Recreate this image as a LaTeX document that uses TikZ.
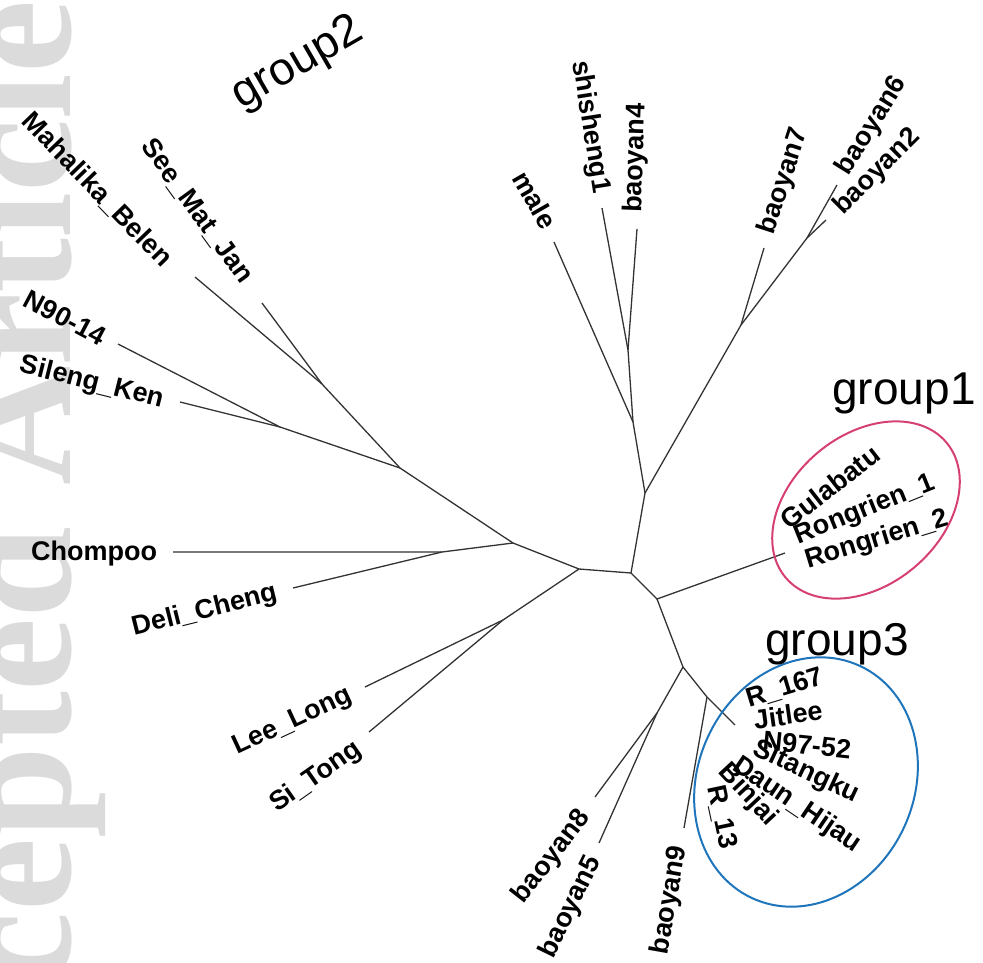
\documentclass[tikz,border=0pt]{standalone}
\usepackage{fontspec}
\setmainfont{Liberation Sans}
\newfontfamily\wmfont{Liberation Serif}
\definecolor{grpone}{RGB}{214,64,112}
\definecolor{grpthree}{RGB}{30,117,187}

\begin{document}
\begin{tikzpicture}[x=1pt,y=-1pt,
    branch/.style={draw=black!80, line width=1.3pt},
    leaf/.style={font=\fontsize{27}{27}\bfseries\selectfont, inner sep=0pt},
    grouplabel/.style={font=\fontsize{46}{46}\selectfont, inner sep=0pt},
    ring/.style={line width=2pt}]
    \useasboundingbox (0,0) rectangle (983,962);
    \node[rotate=90, anchor=base east, inner sep=0pt, text=black!14,
        font=\wmfont\bfseries\fontsize{165}{165}\selectfont] (wm) at (70,0) {Accepted Article};

    % inner nodes of the tree
    \coordinate (A) at (513,543);
    \coordinate (B) at (579,569);
    \coordinate (C) at (631,573);
    \coordinate (D) at (645,493);
    \coordinate (E) at (633,422);
    \coordinate (F) at (628,350);
    \coordinate (G) at (741,325);
    \coordinate (H) at (807,238);
    \coordinate (I) at (657,599);
    \coordinate (J) at (683,667);
    \coordinate (K) at (707,697);
    \coordinate (L) at (657,713);
    \coordinate (M) at (400,468);
    \coordinate (N) at (322,384);
    \coordinate (P) at (280,427);
    \coordinate (Q) at (442,552);
    \coordinate (R) at (503,620);

    % tips
    \coordinate (t-male) at (554,242);
    \coordinate (t-shisheng1) at (602,208);
    \coordinate (t-baoyan4) at (637,229);
    \coordinate (t-baoyan7) at (764,248);
    \coordinate (t-baoyan6) at (837,185);
    \coordinate (t-baoyan2) at (826,220);
    \coordinate (t-grp1) at (785,553);
    \coordinate (t-grp3) at (735,725);
    \coordinate (t-baoyan9) at (684,828);
    \coordinate (t-baoyan8) at (595,797);
    \coordinate (t-baoyan5) at (599,843);
    \coordinate (t-leelong) at (365,687);
    \coordinate (t-sitong) at (369,732);
    \coordinate (t-delicheng) at (293,588);
    \coordinate (t-chompoo) at (173,552);
    \coordinate (t-silengken) at (180,402);
    \coordinate (t-n90) at (118,344);
    \coordinate (t-mahalika) at (195,277);
    \coordinate (t-seematjan) at (262,303);

    \draw[branch] (A) -- (B) -- (C) -- (D) -- (E) -- (F);
    \draw[branch] (E) -- (t-male);
    \draw[branch] (F) -- (t-shisheng1);
    \draw[branch] (F) -- (t-baoyan4);
    \draw[branch] (D) -- (G) -- (t-baoyan7);
    \draw[branch] (G) -- (H) -- (t-baoyan6);
    \draw[branch] (H) -- (t-baoyan2);
    \draw[branch] (C) -- (I) -- (t-grp1);
    \draw[branch] (I) -- (J) -- (L) -- (t-baoyan8);
    \draw[branch] (L) -- (t-baoyan5);
    \draw[branch] (J) -- (K) -- (t-grp3);
    \draw[branch] (K) -- (t-baoyan9);
    \draw[branch] (B) -- (R) -- (t-leelong);
    \draw[branch] (R) -- (t-sitong);
    \draw[branch] (A) -- (Q) -- (t-chompoo);
    \draw[branch] (Q) -- (t-delicheng);
    \draw[branch] (A) -- (M) -- (P) -- (t-silengken);
    \draw[branch] (P) -- (t-n90);
    \draw[branch] (M) -- (N) -- (t-mahalika);
    \draw[branch] (N) -- (t-seematjan);

    \node[leaf, rotate=-60] (male) at (535,200) {male};
    \node[leaf, rotate=-81] (shisheng1) at (590,127) {shisheng1};
    \node[leaf, rotate=88] (baoyan4) at (636,158) {baoyan4};
    \node[leaf, rotate=72] (baoyan7) at (784,181) {baoyan7};
    \node[leaf, rotate=58] (baoyan6) at (872,126) {baoyan6};
    \node[leaf, rotate=45] (baoyan2) at (877,172) {baoyan2};
    \node[leaf, rotate=38] (gulabatu) at (830,487) {Gulabatu};
    \node[leaf, rotate=22] (rongrien1) at (865,510) {Rongrien\_1};
    \node[leaf, rotate=17] (rongrien2) at (877,540) {Rongrien\_2};
    \node[leaf, rotate=17] (r167) at (785,688) {R\_167};
    \node[leaf, rotate=8] (jitlee) at (788,715) {Jitlee};
    \node[leaf, rotate=-6] (n9752) at (807,745) {N97-52};
    \node[leaf, rotate=-25] (sitangku) at (806,772) {Sitangku};
    \node[leaf, rotate=-34] (daunhijau) at (797,805) {Daun\_Hijau};
    \node[leaf, rotate=-47] (binjai) at (748,795) {Binjai};
    \node[leaf, rotate=-78] (r13) at (722,817) {R\_13};
    \node[leaf, rotate=80] (baoyan9) at (670,900) {baoyan9};
    \node[leaf, rotate=52] (baoyan8) at (552,857) {baoyan8};
    \node[leaf, rotate=64] (baoyan5) at (571,907) {baoyan5};
    \node[leaf, rotate=35] (sitong) at (316,777) {Si\_Tong};
    \node[leaf, rotate=25] (leelong) at (293,722) {Lee\_Long};
    \node[leaf, rotate=14] (delicheng) at (205,611) {Deli\_Cheng};
    \node[leaf] (chompoo) at (94,554) {Chompoo};
    \node[leaf, rotate=-14] (silengken) at (92,383) {Sileng\_Ken};
    \node[leaf, rotate=-28] (n9014) at (65,318) {N90-14};
    \node[leaf, rotate=-46] (mahalika) at (97,190) {Mahalika\_Belen};
    \node[leaf, rotate=-54] (seematjan) at (197,211) {See\_Mat\_Jan};

    \draw[ring, draw=grpone, rotate around={40:(866,510)}] (866,510) ellipse [x radius=105, y radius=75];
    \draw[ring, draw=grpthree, rotate around={65:(806,782)}] (806,782) ellipse [x radius=128, y radius=108];

    \node[grouplabel] (group1) at (904,393) {group1};
    \node[grouplabel] (group3) at (837,644) {group3};
    \node[grouplabel, rotate=30] (group2) at (298,64) {group2};
\end{tikzpicture}
\end{document}
